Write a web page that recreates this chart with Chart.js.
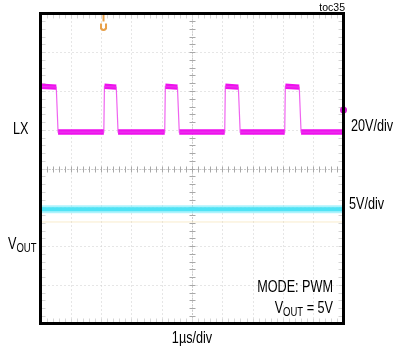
<!DOCTYPE html>
<html>
<head>
<meta charset="utf-8">
<script src="https://cdn.jsdelivr.net/npm/chart.js@4.4.0/dist/chart.umd.min.js"></script>
<style>
  html, body { margin: 0; padding: 0; background: #fff; }
  #wrap { width: 398px; height: 347px; }
</style>
</head>
<body>
<div id="wrap"><canvas id="scope" width="398" height="347"></canvas></div>
<script>
// time in µs (1µs/div), levels in screen divisions (8 div tall)
const lxTime  = [0, 0.52, 0.58, 2.09, 2.11, 2.5, 2.56, 4.1, 4.12, 4.52, 4.58, 6.08, 6.1, 6.53, 6.59, 8.06, 8.08, 8.54, 8.6, 10];
const lxLevel = [6.12, 6.1, 4.94, 4.94, 6.12, 6.1, 4.94, 4.94, 6.12, 6.1, 4.94, 4.94, 6.12, 6.1, 4.94, 4.94, 6.12, 6.1, 4.94, 4.94];
const voutTime  = [0, 10];
const voutLevel = [2.95, 2.95];
const faintLevel = [2.62, 2.62];

const xDivs = 10;
const yDivs = 8;

const FONT = "Arial, 'Liberation Sans', sans-serif";
const SQUEEZE = 0.79; // the original labels use a condensed face

const toPoints = (xs, ys) => xs.map((x, i) => ({ x: x, y: ys[i] }));

// draw condensed text; returns drawn width
function narrowText(ctx, text, x, y, size, align) {
    ctx.font = size + "px " + FONT;
    const w = ctx.measureText(text).width * SQUEEZE;
    let left = x;
    if (align === "right") left = x - w;
    if (align === "center") left = x - w / 2;
    ctx.save();
    ctx.textAlign = "left";
    ctx.translate(left, y);
    ctx.scale(SQUEEZE, 1);
    ctx.fillText(text, 0, 0);
    ctx.restore();
    return w;
}

function textWidth(ctx, text, size) {
    ctx.font = size + "px " + FONT;
    return ctx.measureText(text).width * SQUEEZE;
}

// scope graticule, drawn from the scales
const graticule = {
    id: "graticule",
    beforeDatasetsDraw(chart) {
        const { ctx, chartArea: a, scales: { x, y } } = chart;
        ctx.save();
        ctx.strokeStyle = "#cdcdcd";
        ctx.lineWidth = 1;
        ctx.setLineDash([1, 3]);
        for (let i = 1; i < xDivs; i++) {
            const px = Math.round(x.getPixelForValue(i)) + 0.5;
            ctx.beginPath(); ctx.moveTo(px, a.top); ctx.lineTo(px, a.bottom); ctx.stroke();
        }
        for (let j = 1; j < yDivs; j++) {
            const py = Math.round(y.getPixelForValue(j)) + 0.5;
            ctx.beginPath(); ctx.moveTo(a.left, py); ctx.lineTo(a.right, py); ctx.stroke();
        }
        ctx.setLineDash([]);

        // minor ticks on the centre crosshair and along the edges
        const cx = Math.round(x.getPixelForValue(xDivs / 2)) + 0.5;
        const cy = Math.round(y.getPixelForValue(yDivs / 2)) + 0.5;
        ctx.strokeStyle = "#a8a8a8";
        ctx.setLineDash([1, 2]);
        ctx.beginPath(); ctx.moveTo(cx, a.top); ctx.lineTo(cx, a.bottom); ctx.stroke();
        ctx.beginPath(); ctx.moveTo(a.left, cy); ctx.lineTo(a.right, cy); ctx.stroke();
        ctx.setLineDash([]);
        for (let t = 0; t <= xDivs * 5; t++) {
            const px = Math.round(x.getPixelForValue(t / 5)) + 0.5;
            ctx.strokeStyle = "#a8a8a8";
            ctx.beginPath(); ctx.moveTo(px, cy - 3); ctx.lineTo(px, cy + 3); ctx.stroke();
            ctx.strokeStyle = "#d6d6d6";
            ctx.beginPath(); ctx.moveTo(px, a.top); ctx.lineTo(px, a.top + 5); ctx.stroke();
            ctx.beginPath(); ctx.moveTo(px, a.bottom - 5); ctx.lineTo(px, a.bottom); ctx.stroke();
        }
        for (let t = 0; t <= yDivs * 5; t++) {
            const py = Math.round(y.getPixelForValue(t / 5)) + 0.5;
            ctx.strokeStyle = "#a8a8a8";
            ctx.beginPath(); ctx.moveTo(cx - 3, py); ctx.lineTo(cx + 3, py); ctx.stroke();
            ctx.strokeStyle = "#d6d6d6";
            ctx.beginPath(); ctx.moveTo(a.left, py); ctx.lineTo(a.left + 5, py); ctx.stroke();
            ctx.beginPath(); ctx.moveTo(a.right - 5, py); ctx.lineTo(a.right, py); ctx.stroke();
        }
        ctx.restore();
    },
    afterDraw(chart) {
        const { ctx, chartArea: a, scales: { x, y } } = chart;
        ctx.save();

        // trigger marker (orange) at top
        const tx = x.getPixelForValue(2.08);
        ctx.strokeStyle = "#e8a048";
        ctx.lineWidth = 2;
        ctx.beginPath(); ctx.moveTo(tx, a.top + 1); ctx.lineTo(tx, a.top + 8); ctx.stroke();
        ctx.beginPath();
        ctx.moveTo(tx - 2.5, a.top + 10);
        ctx.lineTo(tx - 2.5, a.top + 15);
        ctx.quadraticCurveTo(tx, a.top + 18, tx + 2.5, a.top + 15);
        ctx.lineTo(tx + 2.5, a.top + 10);
        ctx.stroke();

        // LX ground marker on right edge
        ctx.fillStyle = "#d820d8";
        ctx.beginPath();
        ctx.arc(a.right, y.getPixelForValue(5.51), 3.5, 0, Math.PI * 2);
        ctx.fill();

        // frame
        ctx.strokeStyle = "#000";
        ctx.lineWidth = 3;
        ctx.strokeRect(a.left, a.top, a.right - a.left, a.bottom - a.top);

        // labels
        ctx.fillStyle = "#000";
        ctx.textBaseline = "middle";
        narrowText(ctx, "LX", 13, 130, 16, "left");
        narrowText(ctx, "20V/div", 351, 127, 16, "left");
        narrowText(ctx, "5V/div", 349, 205, 16, "left");
        narrowText(ctx, "1µs/div", (a.left + a.right) / 2, 339, 16, "center");

        // V_OUT channel label
        ctx.textBaseline = "alphabetic";
        const vw = narrowText(ctx, "V", 8, 249, 16, "left");
        narrowText(ctx, "OUT", 8 + vw, 252, 12, "left");

        // mode text
        ctx.textBaseline = "middle";
        narrowText(ctx, "MODE: PWM", 333, 288, 16, "right");
        ctx.textBaseline = "alphabetic";
        const eqW = textWidth(ctx, " = 5V", 16);
        const outW = textWidth(ctx, "OUT", 12);
        narrowText(ctx, " = 5V", 333, 313, 16, "right");
        narrowText(ctx, "OUT", 333 - eqW, 316, 12, "right");
        narrowText(ctx, "V", 333 - eqW - outW, 313, 16, "right");

        ctx.font = "10.5px Arial, sans-serif";
        ctx.textAlign = "right";
        ctx.fillText("toc35", 345, 11);
        ctx.restore();
    }
};

new Chart(document.getElementById("scope"), {
    type: "line",
    data: {
        datasets: [
            {
                label: "faint",
                data: toPoints(voutTime, faintLevel),
                borderColor: "rgba(245, 225, 170, 0.6)",
                borderWidth: 1,
                pointRadius: 0
            },
            {
                label: "VOUT",
                data: toPoints(voutTime, voutLevel),
                borderColor: "rgba(120, 235, 250, 0.6)",
                borderWidth: 8,
                pointRadius: 0
            },
            {
                label: "VOUT core",
                data: toPoints(voutTime, voutLevel),
                borderColor: "#12d6ee",
                borderWidth: 4,
                pointRadius: 0
            },
            {
                label: "LX edges",
                data: toPoints(lxTime, lxLevel),
                borderColor: "rgba(235, 60, 235, 0.8)",
                borderWidth: 1.2,
                pointRadius: 0
            },
            {
                label: "LX",
                data: toPoints(lxTime, lxLevel),
                borderColor: "#ee10ee",
                borderWidth: 5.5,
                borderCapStyle: "butt",
                pointRadius: 0,
                segment: {
                    borderColor: c => Math.abs(c.p0.parsed.y - c.p1.parsed.y) > 0.5 ? "rgba(0,0,0,0)" : undefined
                }
            }
        ]
    },
    options: {
        responsive: false,
        animation: false,
        layout: { padding: { left: 40.5, top: 13.5, right: 54.5, bottom: 23.5 } },
        plugins: { legend: { display: false }, tooltip: { enabled: false } },
        scales: {
            x: { type: "linear", min: 0, max: xDivs, display: false },
            y: { type: "linear", min: 0, max: yDivs, display: false }
        }
    },
    plugins: [graticule]
});
</script>
</body>
</html>
